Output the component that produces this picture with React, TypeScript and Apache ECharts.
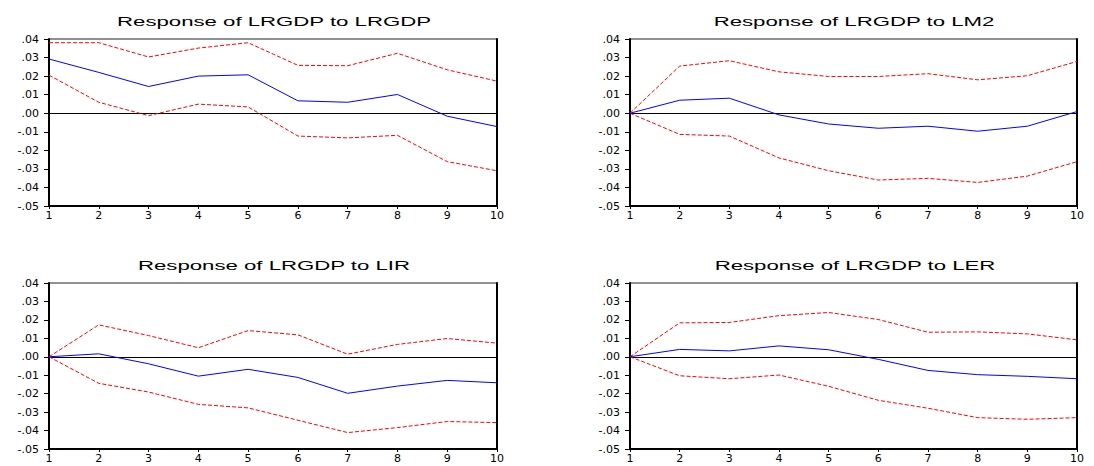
import React, { useEffect, useRef } from "react";
import * as echarts from "echarts";

const periods = ["1", "2", "3", "4", "5", "6", "7", "8", "9", "10"];
const yTicks = { min: -0.05, max: 0.04, interval: 0.01 };

const titles = [
  "Response of LRGDP to LRGDP",
  "Response of LRGDP to LM2",
  "Response of LRGDP to LIR",
  "Response of LRGDP to LER",
];

const gdpResp = [0.0292, 0.022, 0.0144, 0.02, 0.0207, 0.0067, 0.0059, 0.0101, -0.0016, -0.0072];
const gdpUpper = [0.038, 0.038, 0.0303, 0.0351, 0.038, 0.0258, 0.0256, 0.0323, 0.0234, 0.0173];
const gdpLower = [0.0205, 0.0059, -0.0013, 0.0049, 0.0034, -0.0123, -0.0133, -0.0119, -0.0261, -0.031];

const m2Resp = [0, 0.007, 0.0081, -0.0009, -0.0058, -0.0081, -0.007, -0.0097, -0.007, 0.0009];
const m2Upper = [0, 0.0254, 0.0283, 0.0223, 0.0198, 0.0198, 0.0213, 0.018, 0.0202, 0.0279];
const m2Lower = [0, -0.0114, -0.0123, -0.0241, -0.031, -0.036, -0.0351, -0.0373, -0.0339, -0.0261];

const irResp = [0, 0.0016, -0.0038, -0.0105, -0.0068, -0.0112, -0.0198, -0.0159, -0.0128, -0.0141];
const irUpper = [0, 0.0173, 0.0115, 0.0049, 0.0142, 0.0119, 0.0014, 0.0067, 0.0099, 0.0074];
const irLower = [0, -0.0144, -0.0191, -0.0258, -0.0277, -0.0344, -0.0411, -0.0384, -0.0351, -0.0357];

const erResp = [0, 0.004, 0.0032, 0.0059, 0.0038, -0.0014, -0.0074, -0.0097, -0.0106, -0.0119];
const erUpper = [0, 0.0184, 0.0186, 0.0223, 0.024, 0.0202, 0.0133, 0.0135, 0.0124, 0.0092];
const erLower = [0, -0.0103, -0.0119, -0.0099, -0.016, -0.0236, -0.0279, -0.033, -0.0339, -0.033];

const panels = [
  { resp: gdpResp, upper: gdpUpper, lower: gdpLower },
  { resp: m2Resp, upper: m2Upper, lower: m2Lower },
  { resp: irResp, upper: irUpper, lower: irLower },
  { resp: erResp, upper: erUpper, lower: erLower },
];

const grids = [
  { left: 49, top: 39, width: 448, height: 167 },
  { left: 630, top: 39, width: 447, height: 167 },
  { left: 49, top: 283, width: 448, height: 166 },
  { left: 630, top: 283, width: 447, height: 166 },
];

const titlePos = [
  { x: 274, y: 22 },
  { x: 854, y: 22 },
  { x: 274, y: 266 },
  { x: 855, y: 266 },
];

const FONT = "'Liberation Sans', Arial, sans-serif";
const TICK_FONT = "'DejaVu Sans', sans-serif";

function fmt(v: number) {
  return v.toFixed(2).replace("0.", ".");
}

export default function App() {
  const ref = useRef<HTMLDivElement>(null);
  useEffect(() => {
    if (!ref.current) return;
    const chart = echarts.init(ref.current, undefined, { renderer: "svg" });
    const grid: any[] = [];
    const xAxis: any[] = [];
    const yAxis: any[] = [];
    const series: any[] = [];
    panels.forEach((p, i) => {
      grid.push({
        ...grids[i],
        show: true,
        borderColor: "#222",
        borderWidth: 1,
        containLabel: false,
      });
      xAxis.push({
        type: "category",
        gridIndex: i,
        data: periods,
        boundaryGap: false,
        axisLine: { show: true, onZero: false, lineStyle: { color: "#000", width: 2 } },
        axisTick: { show: true, length: 3, lineStyle: { color: "#000" } },
        axisLabel: {
          interval: 0,
          margin: 4,
          fontSize: 11,
          color: "#000",
          fontFamily: TICK_FONT,
        },
        splitLine: { show: false },
      });
      yAxis.push({
        type: "value",
        gridIndex: i,
        position: "left",
        ...yTicks,
        axisLine: { show: true, onZero: false, lineStyle: { color: "#000", width: 2 } },
        axisTick: { show: true, length: 5, lineStyle: { color: "#000" } },
        axisLabel: {
          margin: 10,
          fontSize: 11,
          color: "#000",
          fontFamily: TICK_FONT,
          formatter: (v: number) => fmt(v),
        },
        splitLine: { show: false },
      });
      yAxis.push({
        type: "value",
        gridIndex: i,
        position: "right",
        ...yTicks,
        axisLine: { show: true, onZero: false, lineStyle: { color: "#000", width: 2 } },
        axisTick: { show: false },
        axisLabel: { show: false },
        splitLine: { show: false },
      });
      const red = (data: number[]) => ({
        type: "line",
        xAxisIndex: i,
        yAxisIndex: i * 2,
        data,
        symbol: "none",
        silent: true,
        lineStyle: { color: "#ff0000", width: 1, type: [4, 2] },
      });
      series.push(red(p.upper));
      series.push(red(p.lower));
      series.push({
        type: "line",
        xAxisIndex: i,
        yAxisIndex: i * 2,
        data: p.resp,
        symbol: "none",
        silent: true,
        z: 3,
        lineStyle: { color: "#0000ff", width: 1 },
        markLine: {
          silent: true,
          symbol: "none",
          label: { show: false },
          lineStyle: { color: "#000", width: 1, type: "solid" },
          data: [{ yAxis: 0 }],
          z: 1,
        },
      });
    });
    chart.setOption({
      animation: false,
      backgroundColor: "#fff",
      grid,
      xAxis,
      yAxis,
      series,
      graphic: titles.map((t, i) => ({
        type: "text",
        x: titlePos[i].x,
        y: titlePos[i].y,
        scaleX: 1.85,
        style: {
          text: t,
          textAlign: "center",
          textVerticalAlign: "middle",
          font: `12px ${FONT}`,
          fill: "#000",
        },
      })),
    });
    return () => chart.dispose();
  }, []);
  return (
    <div
      ref={ref}
      style={{ position: "absolute", left: 0, top: 0, width: 1094, height: 466 }}
    />
  );
}
